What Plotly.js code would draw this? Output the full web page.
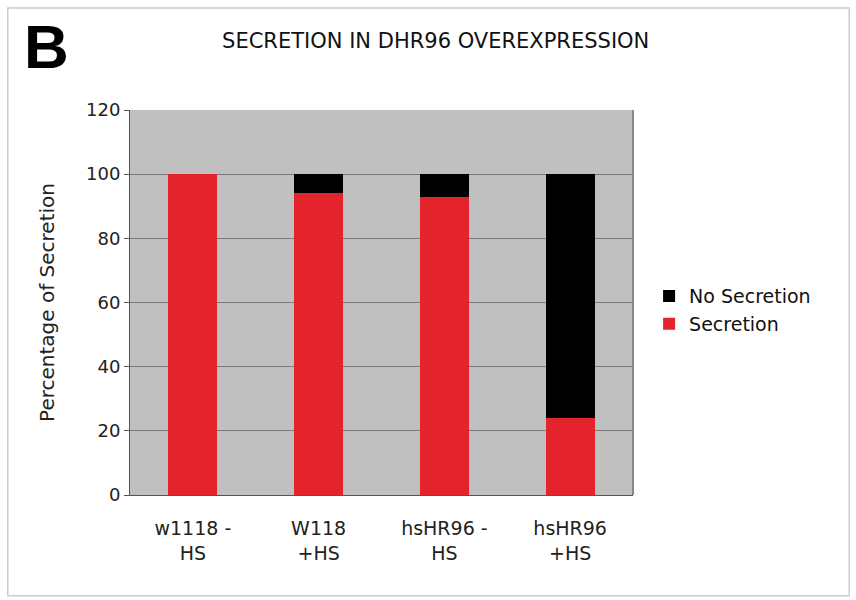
<!DOCTYPE html>
<html><head><meta charset="utf-8">
<script src="https://cdn.plot.ly/plotly-3.0.1.min.js"></script>
<style>body{margin:0;background:#fff}#chart{width:856px;height:600px}</style>
</head><body><div id="chart"></div>
<script>
const categories = ["w1118 -<br>HS", "W118<br>+HS", "hsHR96 -<br>HS", "hsHR96<br>+HS"];
const secretion = [100, 94, 93, 24];
const noSecretion = [0, 6, 7, 76];
const yTicks = [0, 20, 40, 60, 80, 100, 120];

const font = "DejaVu Sans, Verdana, sans-serif";
const traces = [
  {type: "bar", name: "Secretion", x: categories, y: secretion,
   marker: {color: "#e4242c", line: {width: 0}}},
  {type: "bar", name: "No Secretion", x: categories, y: noSecretion,
   marker: {color: "#000000", line: {width: 0}}}
];
const layout = {
  width: 856, height: 600,
  margin: {l: 130, r: 223, t: 110, b: 105},
  paper_bgcolor: "#ffffff", plot_bgcolor: "#c0c0c0",
  barmode: "stack", bargap: 0.61,
  font: {family: font, color: "#222", size: 18},
  title: {text: "SECRETION IN DHR96 OVEREXPRESSION", x: 0.509, xanchor: "center", y: 0.933, yanchor: "middle",
          font: {family: font, size: 21, color: "#111"}},
  xaxis: {showgrid: false, showline: true, linecolor: "#555", linewidth: 1, ticks: "", ticklabelstandoff: 16,
          tickfont: {family: font, size: 19, color: "#222"}, mirror: false},
  yaxis: {range: [0, 120], tickvals: yTicks, showgrid: true, gridcolor: "#7a7a7a", gridwidth: 1,
          showline: true, linecolor: "#555", ticks: "outside", ticklen: 5, tickcolor: "#555",
          tickfont: {family: font, size: 18, color: "#222"}, zeroline: false,
          title: {text: "Percentage of Secretion", font: {family: font, size: 20, color: "#222"}, standoff: 26}},
  legend: {x: 1.032, xanchor: "left", y: 0.48, yanchor: "middle", traceorder: "reversed",
           font: {family: font, size: 19, color: "#111"}, itemwidth: 30, tracegroupgap: 8},
  showlegend: true,
  annotations: [{text: "<b>B</b>", xref: "paper", yref: "paper", x: -0.215, y: 1.165, xanchor: "left", yanchor: "middle",
                 showarrow: false, font: {family: "Liberation Sans, Arial, sans-serif", size: 62, color: "#000"}}],
  shapes: [
    {type: "rect", xref: "paper", yref: "paper", x0: -0.243, x1: 1.43, y0: -0.262, y1: 1.265,
     line: {color: "#cccccc", width: 1.5}, fillcolor: "rgba(0,0,0,0)", layer: "below"},
    {type: "line", xref: "paper", yref: "paper", x0: 1, x1: 1, y0: 0, y1: 1, line: {color: "#888", width: 2}}
  ]
};
Plotly.newPlot("chart", traces, layout, {displayModeBar: false});
</script></body></html>
